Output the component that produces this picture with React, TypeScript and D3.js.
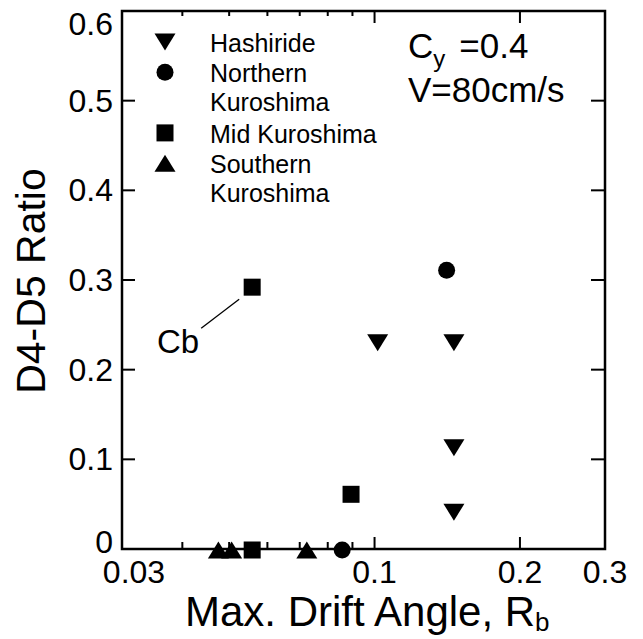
import React from "react";
import * as d3 from "d3";

const FONT = "'Liberation Sans', Arial, Helvetica, sans-serif";

// Data
const hashirideX = [0.1015, 0.146, 0.146, 0.146];
const hashirideY = [0.23, 0.23, 0.113, 0.041];
const northernX = [0.141, 0.0857];
const northernY = [0.311, 0];
const midX = [0.0558, 0.0894, 0.0558];
const midY = [0.292, 0.061, 0];
const southernX = [0.0475, 0.0506, 0.0724];
const southernY = [0, 0, 0];

const yTicks = [0, 0.1, 0.2, 0.3, 0.4, 0.5, 0.6];
const yTickLabels = ["0", "0.1", "0.2", "0.3", "0.4", "0.5", "0.6"];
const xTicksMajor = [0.03, 0.1, 0.2, 0.3];
const xTickLabels = ["0.03", "0.1", "0.2", "0.3"];
const xTicksMinor = [0.04, 0.05, 0.06, 0.07, 0.08, 0.09];

const legendNames = [["Hashiride"], ["Northern", "Kuroshima"], ["Mid Kuroshima"], ["Southern", "Kuroshima"]];
const legendSymbols = ["down", "circle", "square", "up"];

type Sym = "down" | "circle" | "square" | "up";

function Marker({ cx, cy, sym }: { cx: number; cy: number; sym: Sym }) {
  if (sym === "circle") return <circle cx={cx} cy={cy} r={8.5} fill="#000" />;
  if (sym === "square") return <rect x={cx - 8.5} y={cy - 8.5} width={17} height={17} fill="#000" />;
  const w = 10.5, h = 8.5;
  if (sym === "down")
    return <path d={`M${cx - w},${cy - h}L${cx + w},${cy - h}L${cx},${cy + h}Z`} fill="#000" />;
  return <path d={`M${cx - w},${cy + h}L${cx + w},${cy + h}L${cx},${cy - h}Z`} fill="#000" />;
}

export default function App() {
  const x = d3.scaleLog().domain([0.03, 0.3]).range([122, 605]);
  const y = d3.scaleLinear().domain([0, 0.6]).range([549, 11]);
  const [x0, x1] = x.range();
  const [yb, yt] = y.range();

  const series: { xs: number[]; ys: number[]; sym: Sym }[] = [
    { xs: hashirideX, ys: hashirideY, sym: "down" },
    { xs: northernX, ys: northernY, sym: "circle" },
    { xs: midX, ys: midY, sym: "square" },
    { xs: southernX, ys: southernY, sym: "up" },
  ];

  // legend rows
  let row = 0;
  const legendItems: React.ReactNode[] = [];
  legendNames.forEach((lines, i) => {
    const cy = 42 + row * 30.3;
    legendItems.push(<Marker key={"lm" + i} cx={165} cy={cy} sym={legendSymbols[i] as Sym} />);
    lines.forEach((t, j) => {
      legendItems.push(
        <text key={"lt" + i + "_" + j} x={210} y={cy + 10 + j * 29} fontSize={25} fontFamily={FONT}>
          {t}
        </text>
      );
    });
    row += lines.length;
  });

  const cbX = x(midX[0]);
  const cbY = y(midY[0]);

  return (
    <svg width={643} height={639} style={{ position: "absolute", left: 0, top: 0, background: "#fff" }}>
      <rect x={0} y={0} width={643} height={639} fill="#fff" />
      {/* frame */}
      <rect x={x0} y={yt} width={x1 - x0} height={yb - yt} fill="none" stroke="#000" strokeWidth={2.5} />
      {/* y ticks */}
      {yTicks.slice(1, -1).map((v) => (
        <g key={"yt" + v}>
          <line x1={x0} x2={x0 + 13} y1={y(v)} y2={y(v)} stroke="#000" strokeWidth={2} />
          <line x1={x1} x2={x1 - 14} y1={y(v)} y2={y(v)} stroke="#000" strokeWidth={2} />
        </g>
      ))}
      {yTicks.map((v, i) => {
        let off = 11;
        if (i === 0) off = 4;
        if (i === yTicks.length - 1) off = 24;
        return (
          <text key={"yl" + v} x={113} y={y(v) + off} textAnchor="end" fontSize={32} fontFamily={FONT}>
            {yTickLabels[i]}
          </text>
        );
      })}
      {/* x ticks */}
      {xTicksMinor.map((v) => (
        <g key={"xm" + v}>
          <line x1={x(v)} x2={x(v)} y1={yt} y2={yt + 5} stroke="#000" strokeWidth={2} />
          <line x1={x(v)} x2={x(v)} y1={yb} y2={yb - 7} stroke="#000" strokeWidth={2} />
        </g>
      ))}
      {xTicksMajor.slice(1, -1).map((v) => (
        <g key={"xM" + v}>
          <line x1={x(v)} x2={x(v)} y1={yt} y2={yt + 12} stroke="#000" strokeWidth={2} />
          <line x1={x(v)} x2={x(v)} y1={yb} y2={yb - 12} stroke="#000" strokeWidth={2} />
        </g>
      ))}
      {xTicksMajor.map((v, i) => (
        <text key={"xl" + v} x={x(v) + (i === 0 ? 12 : 0)} y={583} textAnchor="middle" fontSize={32} fontFamily={FONT}>
          {xTickLabels[i]}
        </text>
      ))}
      {/* axis titles */}
      <text x={185} y={626} fontSize={42} fontFamily={FONT}>
        Max. Drift Angle, R<tspan fontSize={26} dy={5}>b</tspan>
      </text>
      <text
        transform={`translate(45,281) rotate(-90)`}
        textAnchor="middle"
        fontSize={41}
        fontFamily={FONT}
      >
        D4-D5 Ratio
      </text>
      {/* legend */}
      {legendItems}
      {/* annotation */}
      <text x={408} y={58} fontSize={35} fontFamily={FONT}>
        C<tspan fontSize={24} dy={9}>y</tspan>
        <tspan dy={-9} dx={14}>=0.4</tspan>
      </text>
      <text x={408} y={102} fontSize={35} fontFamily={FONT}>
        V=80cm/s
      </text>
      {/* Cb label */}
      <line x1={cbX - 13} y1={cbY + 12} x2={cbX - 51} y2={cbY + 41} stroke="#000" strokeWidth={1.3} />
      <text x={157} y={353} fontSize={33} fontFamily={FONT}>
        Cb
      </text>
      {/* data */}
      {series.map((s, si) =>
        s.xs.map((xv, k) => <Marker key={`m${si}_${k}`} cx={x(xv)} cy={y(s.ys[k]) + (s.ys[k] === 0 ? 1 : 0)} sym={s.sym} />)
      )}
    </svg>
  );
}
